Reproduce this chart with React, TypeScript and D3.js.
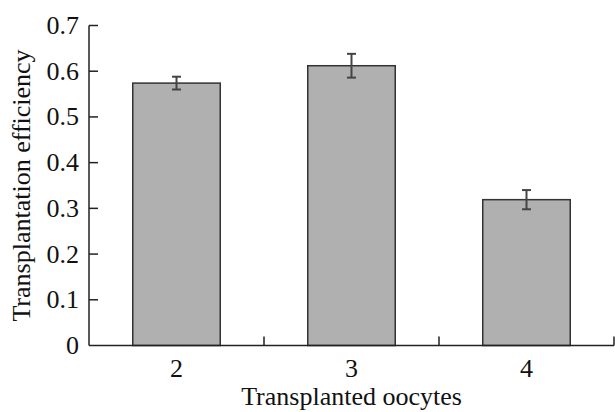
import React from "react";
import * as d3 from "d3";

const categories = ["2", "3", "4"];
const values = [0.574, 0.612, 0.319];
const errors = [0.014, 0.026, 0.021];
const yTicks = [0, 0.1, 0.2, 0.3, 0.4, 0.5, 0.6, 0.7];
const xTitle = "Transplanted oocytes";
const yTitle = "Transplantation efficiency";

const W = 615;
const H = 412;
const margin = { left: 89, right: 1, top: 25.5, bottom: 66.5 };

export default function App() {
  const x = d3
    .scaleBand<string>()
    .domain(categories)
    .range([margin.left, W - margin.right])
    .paddingInner(0.5)
    .paddingOuter(0.25);
  const xb = d3
    .scaleBand<string>()
    .domain(categories)
    .range([margin.left, W - margin.right]);
  const y = d3.scaleLinear().domain([0, 0.7]).range([H - margin.bottom, margin.top]);
  const font = '"Liberation Serif"';
  const fs = 26;
  const y0 = y(0);
  const axisColor = "#222";
  const ts = { fontFamily: font, fontSize: fs };
  return (
    <svg
      width={W}
      height={H}
      style={{ position: "absolute", left: 0, top: 0, display: "block", background: "#fff" }}
    >
      {categories.map((c, i) => {
        const bx = x(c)!;
        const bw = x.bandwidth();
        const cx = bx + bw / 2;
        return (
          <g key={c}>
            <rect
              x={bx}
              y={y(values[i])}
              width={bw}
              height={y0 - y(values[i])}
              fill="#b0b0b0"
              stroke="#333"
              strokeWidth={1.5}
            />
            <line x1={cx} x2={cx} y1={y(values[i] + errors[i])} y2={y(values[i] - errors[i])} stroke="#444" strokeWidth={2} />
            <line x1={cx - 4.5} x2={cx + 4.5} y1={y(values[i] + errors[i])} y2={y(values[i] + errors[i])} stroke="#444" strokeWidth={2} />
            <line x1={cx - 4.5} x2={cx + 4.5} y1={y(values[i] - errors[i])} y2={y(values[i] - errors[i])} stroke="#444" strokeWidth={2} />
            <text x={cx} y={377} textAnchor="middle" style={ts} fill="#111">
              {c}
            </text>
          </g>
        );
      })}
      <line x1={margin.left} x2={margin.left} y1={y(0.7)} y2={y0} stroke={axisColor} strokeWidth={1.5} />
      <line x1={margin.left} x2={W - margin.right} y1={y0} y2={y0} stroke={axisColor} strokeWidth={1.5} />
      {yTicks.map((t) => (
        <g key={t}>
          {t > 0 && (
            <line x1={margin.left} x2={margin.left + 9} y1={y(t)} y2={y(t)} stroke={axisColor} strokeWidth={1.5} />
          )}
          <text x={79} y={y(t) + 8.5} textAnchor="end" style={ts} fill="#111">
            {t === 0 ? "0" : d3.format(".1f")(t)}
          </text>
        </g>
      ))}
      {categories.map((c) => {
        const ex = xb(c)! + xb.bandwidth();
        return <line key={"bt" + c} x1={ex} x2={ex} y1={y0} y2={y0 - 9} stroke={axisColor} strokeWidth={1.5} />;
      })}
      <text x={(margin.left + W - margin.right) / 2} y={405} textAnchor="middle" style={ts} fill="#111">
        {xTitle}
      </text>
      <text
        transform={`translate(30, ${(y(0.7) + y0) / 2}) rotate(-90)`}
        textAnchor="middle"
        style={ts}
        fill="#111"
      >
        {yTitle}
      </text>
    </svg>
  );
}
